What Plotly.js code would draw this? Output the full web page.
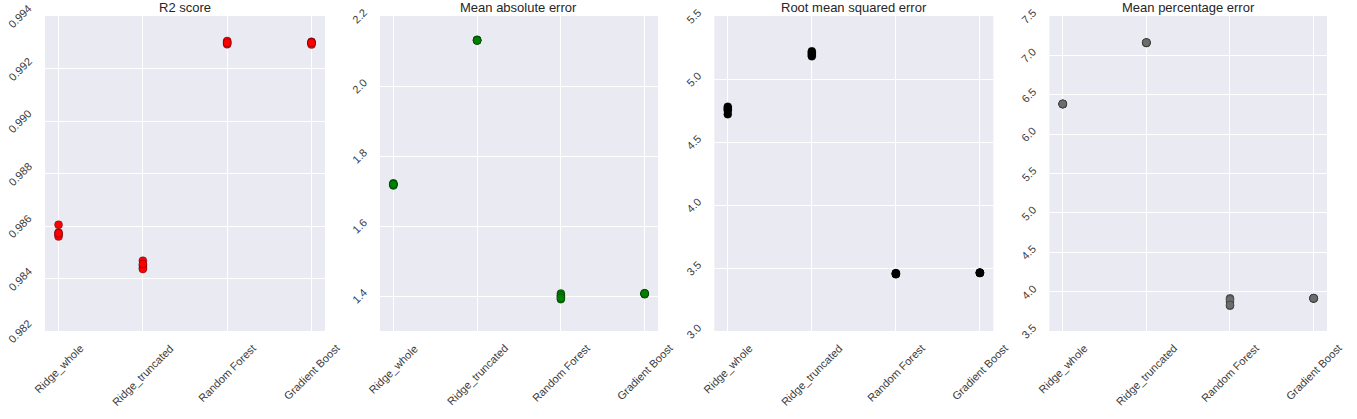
<!DOCTYPE html>
<html>
<head>
<meta charset="utf-8">
<script src="https://cdn.plot.ly/plotly-3.0.1.min.js"></script>
<style>
html, body {margin:0; padding:0; background:#ffffff;}
#chart {width:1357px; height:419px;}
</style>
</head>
<body>
<div id="chart"></div>
<script>
// Models compared (x categories, same on every panel)
var categories = ['Ridge_whole', 'Ridge_truncated', 'Random Forest', 'Gradient Boost'];

// Fold scores per model
var r2_scores = [
  [0.98605, 0.98575, 0.98568, 0.98560, 0.98572],
  [0.98468, 0.98450, 0.98440, 0.98436, 0.98455],
  [0.99302, 0.99296, 0.99305, 0.99292, 0.99298],
  [0.99302, 0.99295, 0.99300, 0.99291, 0.99298]
];
var mae_scores = [
  [1.722, 1.718, 1.716, 1.720, 1.719],
  [2.131, 2.130, 2.131, 2.132, 2.130],
  [1.407, 1.398, 1.391, 1.402, 1.395],
  [1.407, 1.406, 1.408, 1.405, 1.407]
];
var rmse_scores = [
  [4.78, 4.77, 4.75, 4.72, 4.76],
  [5.22, 5.20, 5.19, 5.18, 5.21],
  [3.455, 3.450, 3.460, 3.452, 3.457],
  [3.462, 3.460, 3.464, 3.461, 3.463]
];
var mpe_scores = [
  [6.383, 6.380, 6.385, 6.381, 6.384],
  [7.161, 7.158, 7.164, 7.160, 7.162],
  [3.915, 3.870, 3.820, 3.900, 3.830],
  [3.915, 3.912, 3.918, 3.914, 3.916]
];

// Panel titles and y ticks
var panel_titles = ['R2 score', 'Mean absolute error', 'Root mean squared error', 'Mean percentage error'];
var r2_ticks = [0.982, 0.984, 0.986, 0.988, 0.990, 0.992, 0.994];
var mae_ticks = [1.4, 1.6, 1.8, 2.0, 2.2];
var rmse_ticks = [3.0, 3.5, 4.0, 4.5, 5.0, 5.5];
var mpe_ticks = [3.5, 4.0, 4.5, 5.0, 5.5, 6.0, 6.5, 7.0, 7.5];

var panels = [
  {scores: r2_scores, ticks: r2_ticks, digits: 3, range: [0.982, 0.994], color: '#ff0000', domain: [0.0332, 0.2395]},
  {scores: mae_scores, ticks: mae_ticks, digits: 1, range: [1.3, 2.2], color: '#008000', domain: [0.2800, 0.4849]},
  {scores: rmse_scores, ticks: rmse_ticks, digits: 1, range: [3.0, 5.5], color: '#000000', domain: [0.5264, 0.7320]},
  {scores: mpe_scores, ticks: mpe_ticks, digits: 1, range: [3.5, 7.5], color: '#6c6c6c', domain: [0.7733, 0.9779]}
];

var font_family = '"Liberation Sans", Arial, "DejaVu Sans", sans-serif';
var tick_font = {family: font_family, size: 11, color: '#3a3a3a'};
var traces = [];
var annotations = [];
var layout = {
  width: 1357, height: 419,
  margin: {l: 0, r: 0, t: 16, b: 88},
  paper_bgcolor: '#ffffff',
  plot_bgcolor: '#EAEAF2',
  showlegend: false,
  font: tick_font
};

panels.forEach(function(p, i){
  var sx = i ? String(i + 1) : '';
  var xs = [], ys = [];
  p.scores.forEach(function(vals, c){
    vals.forEach(function(v){ xs.push(categories[c]); ys.push(v); });
  });
  traces.push({
    x: xs, y: ys,
    xaxis: 'x' + sx, yaxis: 'y' + sx,
    type: 'scatter', mode: 'markers',
    marker: {color: p.color, size: 8, line: {color: 'rgba(0,0,0,0.4)', width: 0.8}},
    hoverinfo: 'x+y'
  });
  layout['xaxis' + sx] = {
    domain: p.domain, anchor: 'y' + sx,
    type: 'category', categoryorder: 'array', categoryarray: categories,
    range: [-0.16, 3.16],
    showgrid: true, gridcolor: '#ffffff', gridwidth: 1,
    zeroline: false, showline: false, ticks: '', showticklabels: false
  };
  layout['yaxis' + sx] = {
    domain: [0, 1], anchor: 'x' + sx,
    range: p.range, tickvals: p.ticks,
    showgrid: true, gridcolor: '#ffffff', gridwidth: 1,
    zeroline: false, showline: false, ticks: '', showticklabels: false
  };
  // panel title
  annotations.push({
    xref: 'x' + sx + ' domain', yref: 'paper',
    x: 0.5, y: 1, xanchor: 'center', yanchor: 'middle', yshift: 8.5, borderpad: 0,
    text: panel_titles[i], showarrow: false,
    font: {family: font_family, size: 13, color: '#262626'}
  });
  // rotated y tick labels, centred on their tick like matplotlib
  p.ticks.forEach(function(t){
    annotations.push({
      xref: 'x' + sx + ' domain', yref: 'y' + sx,
      x: 0, y: t, xanchor: 'right', yanchor: 'middle', xshift: -8,
      textangle: -45, text: t.toFixed(p.digits), showarrow: false,
      font: tick_font
    });
  });
  // rotated category labels
  categories.forEach(function(cat, c){
    annotations.push({
      xref: 'x' + sx, yref: 'paper',
      x: c, y: 0, xanchor: 'center', yanchor: 'top', yshift: -8,
      textangle: -45, text: cat, showarrow: false,
      font: tick_font
    });
  });
});
layout.annotations = annotations;

Plotly.newPlot('chart', traces, layout, {staticPlot: true});
</script>
</body>
</html>
